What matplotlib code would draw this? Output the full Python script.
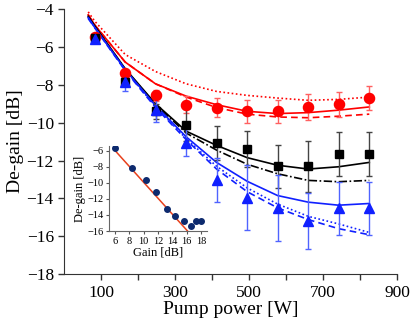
import matplotlib
matplotlib.use('Agg')
import matplotlib.pyplot as plt

plt.rcParams.update({
    'font.family': ['Liberation Serif', 'DejaVu Serif'],
    'mathtext.fontset': 'stix',
})

# measured points (pump power in W, de-gain in dB)
power = [83, 165, 247, 330, 412, 495, 577, 660, 742, 825]
red_pts = [-5.45, -7.4, -8.55, -9.05, -9.2, -9.4, -9.4, -9.17, -9.03, -8.7]
red_err = [0.15, 0.2, 0.3, 0.45, 0.5, 0.6, 0.6, 0.7, 0.67, 0.64]
black_pts = [-5.55, -7.86, -9.4, -10.13, -11.08, -11.38, -12.3, -12.3, -11.64, -11.64]
black_err = [0.15, 0.2, 0.4, 0.85, 0.9, 0.95, 1.13, 1.34, 1.17, 1.17]
blue_pts = [-5.57, -7.86, -9.34, -11.05, -13.03, -13.96, -14.51, -15.17, -14.53, -14.53]
blue_err = [0.15, 0.45, 0.65, 0.73, 1.18, 1.73, 1.75, 1.48, 1.38, 1.38]

# model curves
power_fit = [65, 83, 165, 247, 330, 412, 495, 577, 660, 742, 825]
red_solid = [-4.3, -4.85, -6.8, -7.95, -8.6, -9.05, -9.4, -9.52, -9.47, -9.34, -9.17]
red_dashed = [-4.3, -4.85, -6.8, -7.95, -8.65, -9.2, -9.55, -9.7, -9.74, -9.66, -9.55]
red_dotted = [-4.15, -4.65, -6.4, -7.3, -7.95, -8.35, -8.56, -8.7, -8.82, -8.77, -8.65]
black_solid = [-4.38, -4.9, -7.15, -9.0, -10.45, -11.2, -11.85, -12.25, -12.45, -12.33, -12.1]
black_dashdot = [-4.4, -4.92, -7.18, -9.05, -10.55, -11.45, -12.2, -12.7, -13.05, -13.12, -13.05]
blue_solid = [-4.45, -4.98, -7.2, -9.1, -10.75, -12.1, -13.1, -13.85, -14.2, -14.36, -14.27]
blue_dotted = [-4.45, -4.98, -7.22, -9.15, -10.85, -12.3, -13.45, -14.3, -14.95, -15.35, -15.8]
blue_dashed = [-4.5, -5.0, -7.25, -9.2, -10.9, -12.45, -13.65, -14.5, -15.12, -15.6, -15.92]

# inset: de-gain vs gain
gain = [6.0, 8.4, 10.3, 11.7, 13.2, 14.35, 15.65, 16.55, 17.3, 18.0]
degain = [-5.66, -8.07, -9.66, -11.17, -13.2, -14.15, -14.7, -15.35, -14.7, -14.7]
fit_gain = [6.0, 16.1]
fit_degain = [-5.9, -16.0]

RED = '#ff0000'
BLACK = '#000000'
BLUE = '#1020ff'

fig = plt.figure(figsize=(4.14, 3.24), dpi=100)
ax = fig.add_axes([0.155, 0.154, 0.804, 0.818])

lw = 1.2
ax.plot(power_fit, red_dotted, color=RED, lw=lw, ls=(0, (1, 1.5)))
ax.plot(power_fit, red_dashed, color=RED, lw=lw, ls=(0, (4, 2.5)))
ax.plot(power_fit, red_solid, color=RED, lw=lw)
ax.plot(power_fit, black_dashdot, color=BLACK, lw=lw, ls=(0, (5, 1.5, 1, 1.5)))
ax.plot(power_fit, black_solid, color=BLACK, lw=lw)
ax.plot(power_fit, blue_dotted, color=BLUE, lw=lw, ls=(0, (1, 1.5)))
ax.plot(power_fit, blue_dashed, color=BLUE, lw=lw, ls=(0, (4, 2.5)))
ax.plot(power_fit, blue_solid, color=BLUE, lw=lw)

ax.errorbar(power, red_pts, yerr=red_err, fmt='o', color=RED, ms=7.3,
            ecolor='#ff6060', elinewidth=1, capsize=2.5, capthick=1)
ax.errorbar(power, black_pts, yerr=black_err, fmt='s', color=BLACK, ms=5.5,
            ecolor='#444444', elinewidth=1, capsize=2.5, capthick=1)
ax.errorbar(power, blue_pts, yerr=blue_err, fmt='^', color=BLUE, ms=7.3,
            ecolor='#4f63ff', elinewidth=1, capsize=2.5, capthick=1)

ax.set_xlim(0, 900)
ax.set_ylim(-18, -4)
ax.set_xticks(range(100, 901, 100))
ax.set_xticklabels([str(v) if v % 200 == 100 else '' for v in range(100, 901, 100)])
ax.set_yticks(range(-18, -3, 2))
ax.tick_params(labelsize=12.5, length=4, width=1, color='#333333')
for s in ['top', 'right']:
    ax.spines[s].set_visible(False)
for s in ['left', 'bottom']:
    ax.spines[s].set_color('#333333')
ax.set_xlabel('Pump power [W]', fontsize=14, labelpad=0)
ax.set_ylabel('De-gain [dB]', fontsize=14, labelpad=2)

# inset
axi = fig.add_axes([0.263, 0.287, 0.237, 0.262])
axi.patch.set_alpha(0)
axi.plot(fit_gain, fit_degain, color='#e8401c', lw=1.1)
axi.plot(gain, degain, 'o', color='#0d2a6e', ms=4)
axi.set_xlim(5.2, 18.8)
axi.set_ylim(-16, -5.4)
axi.set_xticks(range(6, 19, 2))
axi.set_yticks(range(-16, -5, 2))
axi.tick_params(labelsize=7.5, length=2.5, width=0.8, pad=1.5, color='#555555')
for s in ['top', 'right']:
    axi.spines[s].set_visible(False)
for s in ['left', 'bottom']:
    axi.spines[s].set_color('#666666')
    axi.spines[s].set_linewidth(0.8)
axi.set_xlabel('Gain [dB]', fontsize=9, labelpad=1)
axi.set_ylabel('De-gain [dB]', fontsize=9, labelpad=1)

fig.savefig('out.png', dpi=100)
